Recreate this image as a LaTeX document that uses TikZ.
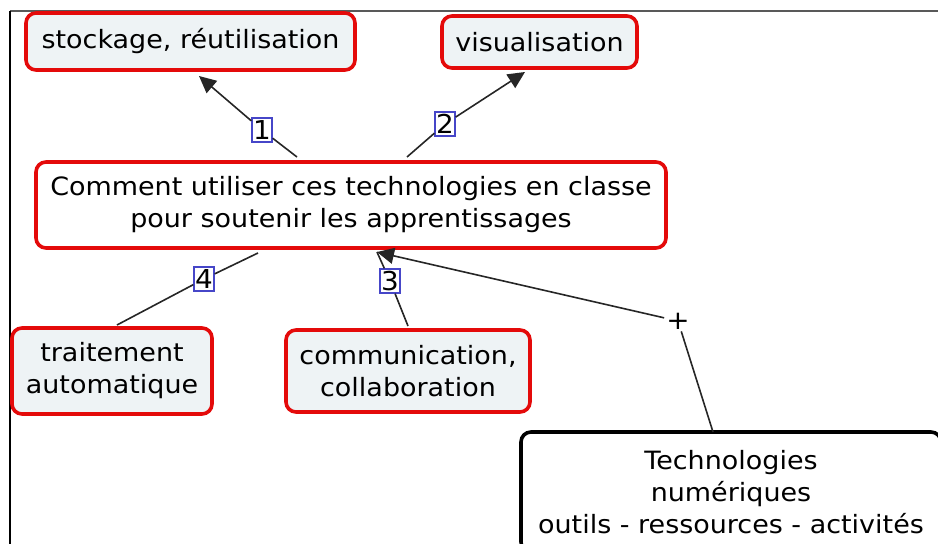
\documentclass[tikz,border=0pt]{standalone}
\usepackage{fontspec}
\setmainfont[FakeStretch=1.07]{DejaVu Sans}
\usetikzlibrary{arrows.meta}
\definecolor{cmred}{RGB}{228,10,10}
\definecolor{cmfill}{RGB}{238,243,245}
\definecolor{cmblue}{RGB}{70,70,200}
\tikzset{
  concept/.style={draw=cmred, line width=3.6pt, rounded corners=10pt, fill=cmfill, align=center,
    font=\fontsize{25.2}{32}\selectfont, inner sep=0pt},
  mainbox/.style={concept, fill=white},
  techbox/.style={draw=black, line width=3.6pt, rounded corners=10pt, fill=white, align=center,
    font=\fontsize{25.2}{32}\selectfont, inner sep=0pt},
  lab/.style={draw=cmblue, line width=1.3pt, fill=white, inner sep=0.5pt, minimum width=20pt, minimum height=24pt,
    font=\fontsize{26}{26}\selectfont},
  plus/.style={inner sep=2pt, font=\fontsize{26}{26}\selectfont},
  link/.style={draw=black!85, line width=1.6pt},
  arr/.style={link, -{Triangle[length=17pt,width=16pt]}},
}
\begin{document}
\begin{tikzpicture}[x=1pt,y=-1pt]
\useasboundingbox (0,0) rectangle (938,544);
\clip (0,0) rectangle (938,544);
% frame
\draw[line width=1.8pt, gray!70!black] (10,11) -- (940,11);
\draw[line width=2.2pt, black] (10,11) -- (10,546);
% concepts
\node[concept, minimum width=329pt, minimum height=57pt] (stock) at (190.5,41.5) {stockage, réutilisation};
\node[concept, minimum width=195pt, minimum height=52pt] (visu) at (539.5,42) {visualisation};
\node[mainbox, minimum width=630pt, minimum height=86pt] (main) at (351,205) {Comment utiliser ces technologies en classe\\pour soutenir les apprentissages};
\node[concept, minimum width=200pt, minimum height=86pt] (trait) at (112,371) {traitement\\automatique};
\node[concept, minimum width=244pt, minimum height=82pt] (comm) at (408,371) {communication,\\collaboration};
\node[techbox, minimum width=420pt, minimum height=120pt] (tech) at (731,492) {Technologies\\numériques\\outils - ressources - activités};
% link labels
\node[lab] (l1) at (262,130) {1};
\node[lab] (l2) at (445,124) {2};
\node[lab] (l3) at (390,281) {3};
\node[lab] (l4) at (204,279) {4};
\node[plus] (lp) at (678,321) {+};
% connector end points
\coordinate (m1) at (297,157);
\coordinate (s1) at (199,76);
\coordinate (m2) at (407,157);
\coordinate (v2) at (525,72);
\coordinate (m3) at (377,252);
\coordinate (c3) at (408,326);
\coordinate (m4) at (258,253);
\coordinate (t4) at (117,325);
\coordinate (tp) at (713,432);
% connectors
\draw[link] (m1) -- (l1);
\draw[arr] (l1) -- (s1);
\draw[link] (m2) -- (l2);
\draw[arr] (l2) -- (v2);
\draw[link] (m4) -- (l4);
\draw[link] (l4) -- (t4);
\draw[link] (c3) -- (l3);
\draw[link] (l3) -- (m3);
\draw[link] (tp) -- (lp);
\draw[arr] (lp) -- (m3);
\end{tikzpicture}
\end{document}
